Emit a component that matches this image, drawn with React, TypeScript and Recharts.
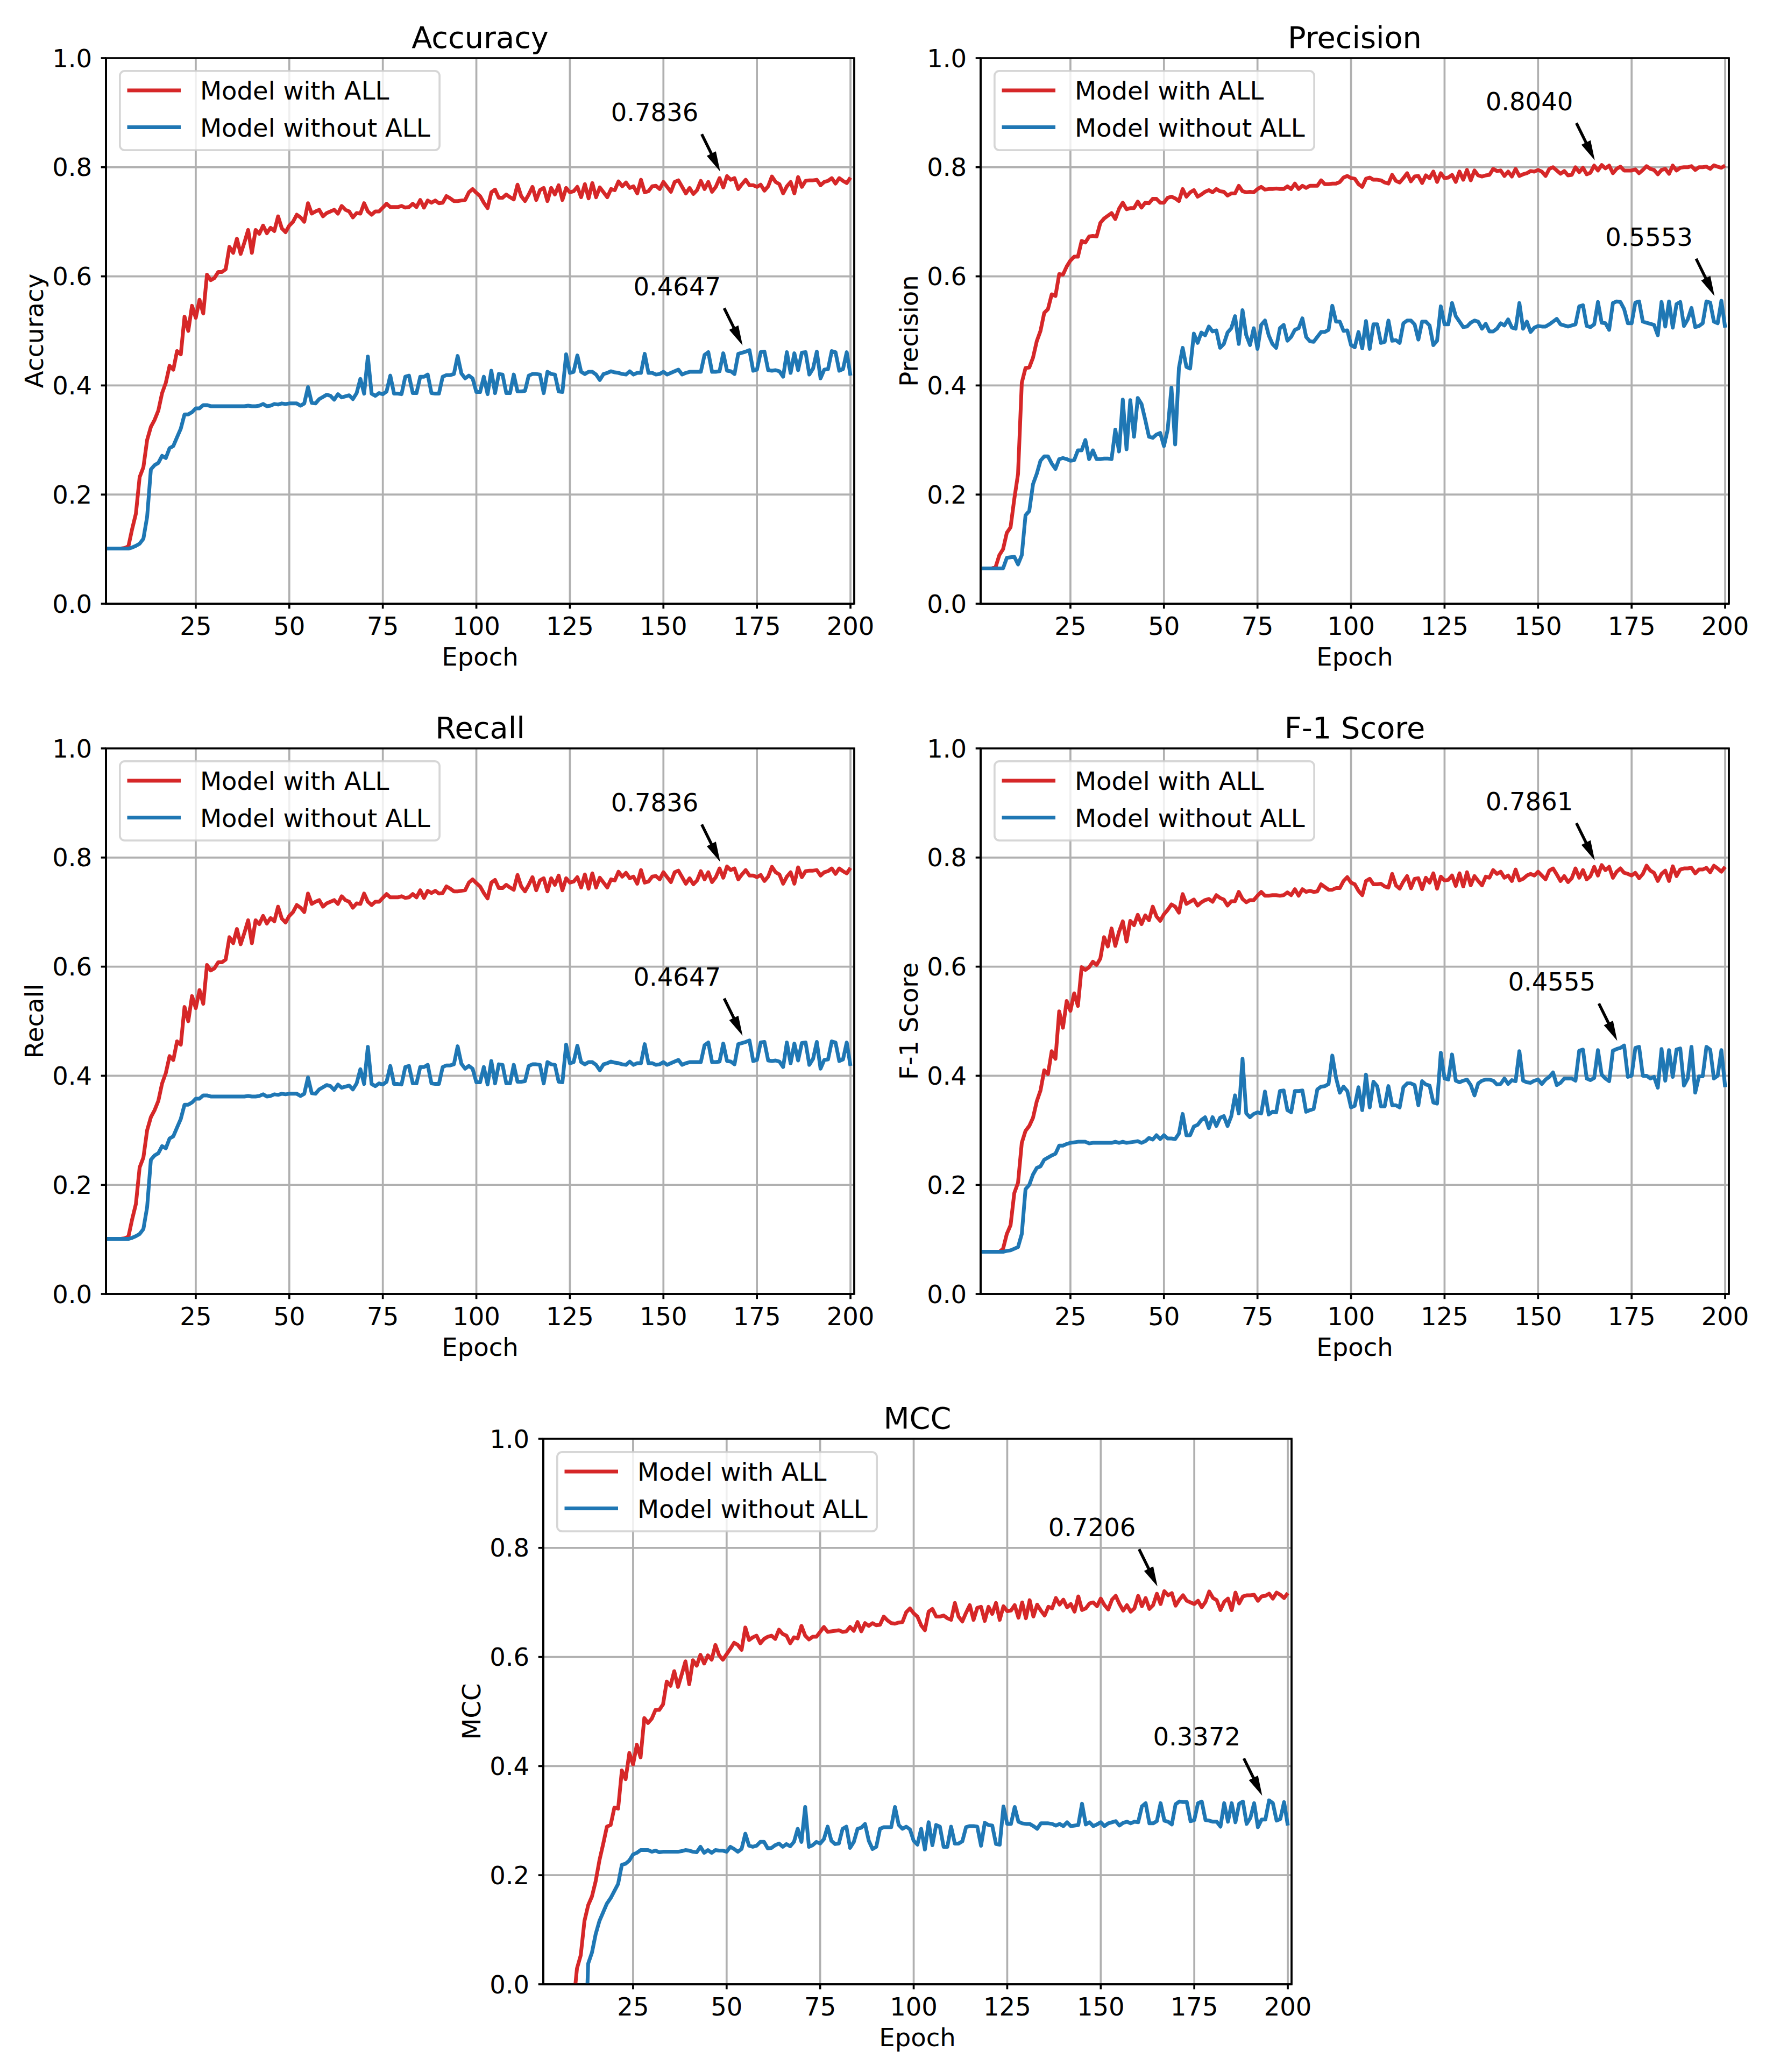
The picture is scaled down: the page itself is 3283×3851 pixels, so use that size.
import React from 'react';
import { LineChart, Line, XAxis, YAxis, CartesianGrid, Legend, ReferenceDot, ReferenceArea } from 'recharts';

const FONT = '"DejaVu Sans", "Liberation Sans", sans-serif';
const RED = '#d62728';
const BLUE = '#1f77b4';

const epochs = Array.from({ length: 200 }, (_, i) => i + 1);
const xTicks = [25, 50, 75, 100, 125, 150, 175, 200];
const yTicks = [0, 0.2, 0.4, 0.6, 0.8, 1.0];
const seriesNames = ['Model with ALL', 'Model without ALL'];

const accuracyWith = [
  0.101, 0.101, 0.101, 0.101, 0.101, 0.102, 0.105, 0.137, 0.165, 0.232,
  0.250, 0.300, 0.324, 0.337, 0.354, 0.386, 0.405, 0.436, 0.429, 0.463,
  0.457, 0.526, 0.500, 0.546, 0.524, 0.557, 0.532, 0.603, 0.593, 0.597,
  0.608, 0.608, 0.613, 0.654, 0.643, 0.669, 0.641, 0.662, 0.685, 0.643,
  0.685, 0.678, 0.693, 0.679, 0.689, 0.683, 0.710, 0.688, 0.681, 0.693,
  0.700, 0.713, 0.708, 0.700, 0.734, 0.715, 0.719, 0.722, 0.710, 0.716,
  0.719, 0.722, 0.715, 0.729, 0.722, 0.719, 0.708, 0.716, 0.715, 0.734,
  0.719, 0.713, 0.719, 0.719, 0.726, 0.733, 0.727, 0.727, 0.727, 0.729,
  0.726, 0.727, 0.733, 0.727, 0.740, 0.726, 0.739, 0.735, 0.739, 0.734,
  0.735, 0.747, 0.743, 0.738, 0.738, 0.739, 0.740, 0.754, 0.760, 0.753,
  0.747, 0.735, 0.725, 0.754, 0.759, 0.744, 0.744, 0.750, 0.745, 0.741,
  0.768, 0.747, 0.738, 0.750, 0.764, 0.740, 0.758, 0.762, 0.738, 0.762,
  0.750, 0.767, 0.740, 0.762, 0.754, 0.756, 0.764, 0.745, 0.769, 0.743,
  0.771, 0.745, 0.763, 0.754, 0.745, 0.760, 0.758, 0.774, 0.765, 0.772,
  0.762, 0.765, 0.752, 0.777, 0.754, 0.756, 0.765, 0.766, 0.760, 0.773,
  0.764, 0.755, 0.773, 0.776, 0.764, 0.752, 0.762, 0.751, 0.758, 0.775,
  0.760, 0.773, 0.755, 0.764, 0.780, 0.763, 0.7836, 0.777, 0.780, 0.760,
  0.769, 0.777, 0.767, 0.767, 0.764, 0.768, 0.757, 0.765, 0.783, 0.773,
  0.769, 0.752, 0.765, 0.773, 0.752, 0.782, 0.764, 0.775, 0.776, 0.776,
  0.777, 0.767, 0.773, 0.775, 0.780, 0.770, 0.780, 0.775, 0.771, 0.781,
];

const accuracyWithout = [
  0.101, 0.101, 0.101, 0.101, 0.101, 0.101, 0.101, 0.103, 0.106, 0.110,
  0.119, 0.159, 0.246, 0.254, 0.258, 0.271, 0.267, 0.285, 0.289, 0.305,
  0.321, 0.347, 0.347, 0.351, 0.358, 0.358, 0.364, 0.364, 0.362, 0.362,
  0.362, 0.362, 0.362, 0.362, 0.362, 0.362, 0.362, 0.362, 0.363, 0.362,
  0.362, 0.363, 0.366, 0.362, 0.363, 0.366, 0.365, 0.367, 0.366, 0.367,
  0.367, 0.367, 0.363, 0.367, 0.397, 0.368, 0.367, 0.375, 0.379, 0.383,
  0.381, 0.374, 0.384, 0.378, 0.380, 0.382, 0.375, 0.386, 0.412, 0.385,
  0.453, 0.385, 0.381, 0.386, 0.384, 0.389, 0.418, 0.385, 0.385, 0.384,
  0.416, 0.418, 0.386, 0.386, 0.416, 0.416, 0.420, 0.386, 0.385, 0.385,
  0.416, 0.419, 0.419, 0.421, 0.454, 0.422, 0.413, 0.418, 0.413, 0.388,
  0.388, 0.416, 0.384, 0.427, 0.386, 0.421, 0.420, 0.386, 0.386, 0.420,
  0.389, 0.389, 0.390, 0.418, 0.421, 0.421, 0.420, 0.386, 0.425, 0.421,
  0.420, 0.389, 0.388, 0.457, 0.423, 0.425, 0.455, 0.425, 0.421, 0.425,
  0.425, 0.420, 0.410, 0.421, 0.423, 0.426, 0.424, 0.423, 0.421, 0.420,
  0.426, 0.420, 0.423, 0.423, 0.458, 0.423, 0.423, 0.420, 0.421, 0.425,
  0.420, 0.423, 0.426, 0.429, 0.420, 0.423, 0.425, 0.425, 0.425, 0.425,
  0.456, 0.461, 0.425, 0.425, 0.426, 0.459, 0.427, 0.426, 0.421, 0.458,
  0.460, 0.462, 0.4647, 0.427, 0.429, 0.461, 0.462, 0.428, 0.427, 0.428,
  0.426, 0.416, 0.461, 0.423, 0.459, 0.428, 0.460, 0.461, 0.420, 0.431,
  0.462, 0.413, 0.429, 0.430, 0.463, 0.461, 0.427, 0.430, 0.461, 0.418,
];

const precisionWith = [
  0.0647, 0.0647, 0.0647, 0.0647, 0.067, 0.089, 0.100, 0.130, 0.140, 0.192,
  0.238, 0.405, 0.432, 0.433, 0.451, 0.481, 0.500, 0.533, 0.540, 0.567,
  0.564, 0.604, 0.603, 0.618, 0.629, 0.636, 0.636, 0.665, 0.662, 0.673,
  0.674, 0.673, 0.698, 0.706, 0.711, 0.716, 0.705, 0.724, 0.735, 0.723,
  0.725, 0.725, 0.737, 0.726, 0.735, 0.734, 0.742, 0.742, 0.735, 0.735,
  0.744, 0.746, 0.743, 0.738, 0.760, 0.746, 0.754, 0.758, 0.746, 0.750,
  0.755, 0.758, 0.754, 0.760, 0.756, 0.755, 0.748, 0.752, 0.752, 0.766,
  0.756, 0.754, 0.755, 0.754, 0.760, 0.764, 0.759, 0.760, 0.760, 0.761,
  0.760, 0.760, 0.765, 0.760, 0.770, 0.760, 0.766, 0.762, 0.766, 0.766,
  0.766, 0.776, 0.769, 0.769, 0.770, 0.770, 0.773, 0.781, 0.784, 0.780,
  0.779, 0.769, 0.764, 0.779, 0.781, 0.777, 0.777, 0.776, 0.772, 0.770,
  0.786, 0.775, 0.772, 0.780, 0.789, 0.774, 0.783, 0.784, 0.771, 0.785,
  0.780, 0.792, 0.773, 0.789, 0.780, 0.781, 0.786, 0.773, 0.792, 0.777,
  0.795, 0.776, 0.794, 0.785, 0.783, 0.785, 0.786, 0.797, 0.793, 0.794,
  0.784, 0.792, 0.783, 0.797, 0.784, 0.787, 0.789, 0.793, 0.792, 0.795,
  0.792, 0.784, 0.797, 0.800, 0.794, 0.788, 0.793, 0.785, 0.786, 0.800,
  0.791, 0.799, 0.787, 0.790, 0.803, 0.794, 0.804, 0.798, 0.803, 0.789,
  0.797, 0.801, 0.794, 0.794, 0.794, 0.796, 0.789, 0.795, 0.802, 0.797,
  0.795, 0.787, 0.795, 0.797, 0.788, 0.803, 0.794, 0.799, 0.800, 0.800,
  0.802, 0.795, 0.800, 0.800, 0.801, 0.797, 0.8035, 0.801, 0.799, 0.803,
];

const precisionWithout = [
  0.0647, 0.0647, 0.0647, 0.0647, 0.0647, 0.0647, 0.0647, 0.084, 0.085, 0.086,
  0.072, 0.089, 0.162, 0.170, 0.219, 0.238, 0.262, 0.270, 0.270, 0.257,
  0.247, 0.265, 0.267, 0.265, 0.262, 0.263, 0.281, 0.281, 0.300, 0.265,
  0.281, 0.265, 0.265, 0.266, 0.266, 0.265, 0.319, 0.279, 0.374, 0.283,
  0.373, 0.306, 0.377, 0.366, 0.337, 0.306, 0.304, 0.310, 0.313, 0.289,
  0.319, 0.396, 0.292, 0.432, 0.469, 0.434, 0.431, 0.495, 0.478, 0.497,
  0.492, 0.508, 0.499, 0.501, 0.469, 0.476, 0.497, 0.505, 0.527, 0.476,
  0.538, 0.492, 0.474, 0.505, 0.467, 0.511, 0.519, 0.492, 0.476, 0.469,
  0.505, 0.511, 0.482, 0.489, 0.502, 0.505, 0.523, 0.489, 0.481, 0.480,
  0.489, 0.498, 0.498, 0.502, 0.546, 0.517, 0.517, 0.500, 0.501, 0.474,
  0.470, 0.498, 0.468, 0.518, 0.467, 0.512, 0.512, 0.478, 0.480, 0.519,
  0.482, 0.483, 0.478, 0.514, 0.519, 0.519, 0.512, 0.484, 0.517, 0.517,
  0.510, 0.474, 0.482, 0.545, 0.512, 0.512, 0.551, 0.527, 0.517, 0.507,
  0.508, 0.515, 0.519, 0.517, 0.504, 0.513, 0.499, 0.499, 0.504, 0.514,
  0.510, 0.521, 0.506, 0.504, 0.551, 0.504, 0.517, 0.498, 0.506, 0.509,
  0.508, 0.508, 0.512, 0.517, 0.522, 0.512, 0.510, 0.508, 0.510, 0.512,
  0.545, 0.547, 0.509, 0.507, 0.512, 0.553, 0.515, 0.514, 0.502, 0.551,
  0.554, 0.553, 0.540, 0.514, 0.514, 0.552, 0.554, 0.517, 0.515, 0.513,
  0.511, 0.492, 0.553, 0.508, 0.554, 0.506, 0.549, 0.553, 0.509, 0.521,
  0.542, 0.507, 0.509, 0.514, 0.554, 0.552, 0.517, 0.514, 0.5553, 0.506,
];

// Weighted recall equals accuracy in the reference: the two panels are identical.
const recallWith = accuracyWith;
const recallWithout = accuracyWithout;

const f1With = [
  0.0773, 0.0773, 0.0773, 0.0773, 0.0773, 0.0773, 0.083, 0.110, 0.126, 0.185,
  0.204, 0.277, 0.299, 0.308, 0.323, 0.353, 0.373, 0.410, 0.403, 0.445,
  0.431, 0.518, 0.488, 0.537, 0.519, 0.551, 0.528, 0.599, 0.594, 0.599,
  0.609, 0.603, 0.615, 0.654, 0.637, 0.670, 0.638, 0.664, 0.683, 0.646,
  0.684, 0.676, 0.695, 0.678, 0.694, 0.685, 0.710, 0.692, 0.684, 0.696,
  0.704, 0.714, 0.710, 0.699, 0.733, 0.715, 0.719, 0.723, 0.712, 0.718,
  0.722, 0.724, 0.719, 0.731, 0.726, 0.723, 0.712, 0.720, 0.720, 0.737,
  0.724, 0.718, 0.722, 0.722, 0.730, 0.737, 0.730, 0.730, 0.731, 0.731,
  0.730, 0.731, 0.736, 0.731, 0.742, 0.730, 0.742, 0.737, 0.739, 0.737,
  0.738, 0.751, 0.746, 0.741, 0.741, 0.744, 0.744, 0.757, 0.764, 0.754,
  0.751, 0.739, 0.731, 0.757, 0.761, 0.751, 0.751, 0.752, 0.747, 0.745,
  0.770, 0.749, 0.743, 0.756, 0.766, 0.744, 0.761, 0.762, 0.742, 0.763,
  0.754, 0.771, 0.743, 0.765, 0.758, 0.759, 0.767, 0.748, 0.771, 0.747,
  0.773, 0.749, 0.766, 0.757, 0.749, 0.765, 0.763, 0.777, 0.770, 0.774,
  0.763, 0.767, 0.757, 0.778, 0.758, 0.761, 0.767, 0.770, 0.767, 0.774,
  0.767, 0.760, 0.776, 0.780, 0.769, 0.757, 0.766, 0.755, 0.762, 0.780,
  0.763, 0.777, 0.760, 0.766, 0.783, 0.767, 0.7861, 0.777, 0.783, 0.763,
  0.774, 0.780, 0.772, 0.770, 0.767, 0.772, 0.762, 0.770, 0.785, 0.776,
  0.772, 0.757, 0.770, 0.776, 0.757, 0.784, 0.766, 0.778, 0.780, 0.780,
  0.781, 0.771, 0.778, 0.778, 0.781, 0.773, 0.785, 0.780, 0.774, 0.783,
];

const f1Without = [
  0.0773, 0.0773, 0.0773, 0.0773, 0.0773, 0.0773, 0.0773, 0.079, 0.080, 0.083,
  0.086, 0.110, 0.192, 0.200, 0.219, 0.231, 0.234, 0.246, 0.250, 0.254,
  0.257, 0.272, 0.272, 0.275, 0.277, 0.278, 0.279, 0.279, 0.279, 0.276,
  0.277, 0.277, 0.277, 0.277, 0.277, 0.277, 0.279, 0.277, 0.279, 0.277,
  0.278, 0.279, 0.280, 0.277, 0.280, 0.286, 0.283, 0.291, 0.284, 0.291,
  0.285, 0.285, 0.284, 0.294, 0.330, 0.291, 0.291, 0.307, 0.310, 0.319,
  0.324, 0.304, 0.324, 0.308, 0.323, 0.326, 0.308, 0.326, 0.364, 0.331,
  0.431, 0.331, 0.324, 0.330, 0.333, 0.331, 0.371, 0.329, 0.334, 0.333,
  0.372, 0.373, 0.337, 0.333, 0.372, 0.372, 0.373, 0.334, 0.337, 0.339,
  0.375, 0.380, 0.381, 0.385, 0.437, 0.396, 0.369, 0.380, 0.372, 0.342,
  0.345, 0.379, 0.337, 0.402, 0.342, 0.389, 0.381, 0.344, 0.344, 0.381,
  0.346, 0.346, 0.342, 0.379, 0.386, 0.386, 0.383, 0.346, 0.390, 0.384,
  0.382, 0.351, 0.349, 0.442, 0.395, 0.393, 0.439, 0.391, 0.388, 0.391,
  0.393, 0.383, 0.364, 0.386, 0.391, 0.393, 0.393, 0.391, 0.384, 0.385,
  0.395, 0.385, 0.392, 0.390, 0.445, 0.391, 0.388, 0.387, 0.391, 0.393,
  0.385, 0.393, 0.398, 0.406, 0.383, 0.387, 0.395, 0.395, 0.395, 0.391,
  0.446, 0.448, 0.395, 0.392, 0.396, 0.447, 0.402, 0.395, 0.390, 0.446,
  0.449, 0.451, 0.4555, 0.398, 0.400, 0.451, 0.453, 0.400, 0.400, 0.395,
  0.398, 0.378, 0.449, 0.391, 0.447, 0.398, 0.448, 0.450, 0.382, 0.395,
  0.453, 0.369, 0.399, 0.399, 0.453, 0.448, 0.395, 0.400, 0.447, 0.379,
];

const mccWith = [
  -0.12, -0.12, -0.12, -0.12, -0.12, -0.12, -0.11, -0.08, -0.04, 0.029,
  0.053, 0.116, 0.145, 0.161, 0.189, 0.227, 0.257, 0.289, 0.292, 0.324,
  0.322, 0.392, 0.376, 0.424, 0.403, 0.439, 0.416, 0.488, 0.479, 0.487,
  0.503, 0.503, 0.513, 0.555, 0.547, 0.574, 0.545, 0.568, 0.592, 0.550,
  0.594, 0.584, 0.604, 0.588, 0.603, 0.595, 0.622, 0.603, 0.595, 0.605,
  0.615, 0.626, 0.622, 0.613, 0.654, 0.631, 0.636, 0.639, 0.625, 0.633,
  0.637, 0.639, 0.633, 0.650, 0.642, 0.639, 0.625, 0.636, 0.634, 0.657,
  0.639, 0.632, 0.637, 0.637, 0.646, 0.655, 0.646, 0.647, 0.648, 0.649,
  0.646, 0.647, 0.655, 0.648, 0.664, 0.647, 0.662, 0.657, 0.662, 0.658,
  0.659, 0.674, 0.667, 0.662, 0.661, 0.663, 0.664, 0.682, 0.689, 0.680,
  0.674, 0.658, 0.649, 0.683, 0.688, 0.674, 0.674, 0.676, 0.671, 0.668,
  0.699, 0.674, 0.665, 0.681, 0.695, 0.668, 0.690, 0.692, 0.666, 0.692,
  0.679, 0.699, 0.668, 0.693, 0.684, 0.685, 0.695, 0.672, 0.700, 0.671,
  0.704, 0.674, 0.696, 0.685, 0.676, 0.692, 0.689, 0.708, 0.696, 0.705,
  0.691, 0.697, 0.683, 0.711, 0.686, 0.689, 0.698, 0.700, 0.693, 0.707,
  0.695, 0.687, 0.705, 0.712, 0.697, 0.685, 0.695, 0.683, 0.689, 0.712,
  0.693, 0.708, 0.688, 0.695, 0.716, 0.697, 0.7206, 0.713, 0.717, 0.694,
  0.705, 0.713, 0.703, 0.700, 0.697, 0.703, 0.691, 0.701, 0.720, 0.708,
  0.704, 0.686, 0.701, 0.707, 0.686, 0.718, 0.698, 0.711, 0.713, 0.713,
  0.714, 0.703, 0.711, 0.712, 0.716, 0.707, 0.718, 0.714, 0.708, 0.717,
];

const mccWithout = [
  -0.2, -0.2, -0.2, -0.2, -0.2, -0.2, -0.2, -0.2, -0.2, -0.2,
  -0.19, -0.15, 0.038, 0.058, 0.092, 0.116, 0.132, 0.148, 0.158, 0.171,
  0.184, 0.219, 0.221, 0.227, 0.238, 0.241, 0.246, 0.246, 0.246, 0.243,
  0.245, 0.242, 0.243, 0.243, 0.243, 0.243, 0.243, 0.244, 0.246, 0.245,
  0.243, 0.242, 0.252, 0.241, 0.246, 0.241, 0.246, 0.245, 0.245, 0.243,
  0.252, 0.248, 0.243, 0.248, 0.276, 0.254, 0.252, 0.254, 0.261, 0.261,
  0.249, 0.250, 0.255, 0.258, 0.252, 0.257, 0.253, 0.261, 0.285, 0.261,
  0.325, 0.252, 0.255, 0.261, 0.258, 0.266, 0.289, 0.263, 0.257, 0.258,
  0.285, 0.289, 0.250, 0.261, 0.285, 0.287, 0.294, 0.263, 0.248, 0.252,
  0.285, 0.288, 0.288, 0.288, 0.325, 0.292, 0.285, 0.289, 0.284, 0.263,
  0.256, 0.285, 0.247, 0.297, 0.255, 0.292, 0.289, 0.252, 0.252, 0.289,
  0.258, 0.258, 0.262, 0.288, 0.290, 0.290, 0.289, 0.254, 0.296, 0.292,
  0.291, 0.257, 0.256, 0.326, 0.294, 0.294, 0.325, 0.298, 0.295, 0.294,
  0.294, 0.290, 0.285, 0.295, 0.295, 0.295, 0.294, 0.291, 0.294, 0.290,
  0.297, 0.290, 0.291, 0.292, 0.331, 0.293, 0.297, 0.290, 0.293, 0.297,
  0.290, 0.295, 0.297, 0.299, 0.291, 0.296, 0.298, 0.295, 0.298, 0.297,
  0.326, 0.332, 0.295, 0.295, 0.299, 0.332, 0.300, 0.298, 0.293, 0.330,
  0.335, 0.334, 0.334, 0.299, 0.301, 0.332, 0.335, 0.301, 0.300, 0.298,
  0.298, 0.289, 0.332, 0.298, 0.332, 0.297, 0.331, 0.335, 0.294, 0.305,
  0.332, 0.288, 0.302, 0.302, 0.3372, 0.332, 0.300, 0.303, 0.334, 0.291,
];

// ---- layout (pixels) ----
const PLOT_W = 1391;
const PLOT_H = 1014;
const PAD_L = 200;
const PAD_T = 100;
const PAD_R = 40;
const PAD_B = 150;
const TICK_FONT = 46.5;
const TITLE_FONT = 55.8;
const SPINE = 3.7;
const LINE_W = 7;

function peakOf(values: number[]) {
  let best = 0;
  values.forEach((v, i) => {
    if (v > values[best]) best = i;
  });
  return { epoch: epochs[best], value: values[best] };
}

function Callout(props: any) {
  const { cx, cy, text } = props;
  if (cx == null || cy == null || isNaN(cx) || isNaN(cy)) return null;
  const sx = cx - 47;
  const sy = cy - 78;
  const tx = cx - 12.8;
  const ty = cy - 8.7;
  const dx = tx - sx;
  const dy = ty - sy;
  const len = Math.hypot(dx, dy);
  const ux = dx / len;
  const uy = dy / len;
  const nx = -uy;
  const ny = ux;
  const hl = 37;
  const hw = 9.5;
  const sw = 2.7;
  const bx = tx - ux * hl;
  const by = ty - uy * hl;
  const pts = [
    [sx + nx * sw, sy + ny * sw],
    [bx + nx * sw, by + ny * sw],
    [bx + nx * hw, by + ny * hw],
    [tx, ty],
    [bx - nx * hw, by - ny * hw],
    [bx - nx * sw, by - ny * sw],
    [sx - nx * sw, sy - ny * sw],
  ]
    .map((p) => `${p[0]},${p[1]}`)
    .join(' ');
  return (
    <g>
      <polygon points={pts} fill="#000" stroke="none" />
      <text
        x={cx - 134.5}
        y={cy - 102}
        textAnchor="middle"
        fontSize={TICK_FONT}
        fontFamily={FONT}
        fill="#000"
      >
        {text}
      </text>
    </g>
  );
}

function LegendBox(props: any) {
  const payload = props.payload || [];
  return (
    <svg width={598} height={151} style={{ display: 'block', overflow: 'visible' }}>
      <rect
        x={1.85}
        y={1.85}
        width={594.3}
        height={147.3}
        rx={9}
        ry={9}
        fill="#ffffff"
        fillOpacity={0.8}
        stroke="#cccccc"
        strokeOpacity={0.8}
        strokeWidth={SPINE}
      />
      {payload.map((entry: any, i: number) => (
        <g key={`lg-${i}`}>
          <line
            x1={15.5}
            x2={115}
            y1={38 + i * 68.5}
            y2={38 + i * 68.5}
            stroke={entry.color}
            strokeWidth={LINE_W}
          />
          <text x={151} y={55 + i * 68.5} fontSize={TICK_FONT} fontFamily={FONT} fill="#000">
            {entry.value}
          </text>
        </g>
      ))}
    </svg>
  );
}

function Panel(props: {
  left: number;
  top: number;
  title: string;
  yLabel: string;
  withVals: number[];
  withoutVals: number[];
}) {
  const { left, top, title, yLabel, withVals, withoutVals } = props;
  const rows = epochs.map((epoch, i) => ({
    epoch,
    withAll: withVals[i],
    withoutAll: withoutVals[i],
  }));
  const pw = peakOf(withVals);
  const pwo = peakOf(withoutVals);
  const W = PAD_L + PLOT_W + PAD_R;
  const H = PAD_T + PLOT_H + PAD_B;
  const tickStyle = { fontSize: TICK_FONT, fill: '#000', fontFamily: FONT };
  return (
    <div style={{ position: 'absolute', left: left - PAD_L, top: top - PAD_T, width: W, height: H }}>
      <LineChart width={W} height={H} data={rows} margin={{ top: PAD_T, right: PAD_R, bottom: 0, left: 0 }}>
        <CartesianGrid stroke="#b0b0b0" strokeWidth={SPINE} />
        <XAxis
          dataKey="epoch"
          type="number"
          domain={[1, 201]}
          ticks={xTicks}
          interval={0}
          allowDataOverflow
          height={PAD_B}
          tickSize={9.3}
          tickMargin={15.2}
          tick={tickStyle}
          axisLine={{ stroke: '#000', strokeWidth: SPINE }}
          tickLine={{ stroke: '#000', strokeWidth: SPINE }}
        />
        <YAxis
          type="number"
          domain={[0, 1]}
          ticks={yTicks}
          interval={0}
          allowDataOverflow
          width={PAD_L}
          tickSize={9.3}
          tickMargin={16.5}
          tick={tickStyle}
          tickFormatter={(v: number) => v.toFixed(1)}
          axisLine={{ stroke: '#000', strokeWidth: SPINE }}
          tickLine={{ stroke: '#000', strokeWidth: SPINE }}
        />
        <Line
          type="linear"
          dataKey="withAll"
          name={seriesNames[0]}
          stroke={RED}
          strokeWidth={LINE_W}
          strokeLinejoin="round"
          dot={false}
          activeDot={false}
          isAnimationActive={false}
        />
        <Line
          type="linear"
          dataKey="withoutAll"
          name={seriesNames[1]}
          stroke={BLUE}
          strokeWidth={LINE_W}
          strokeLinejoin="round"
          dot={false}
          activeDot={false}
          isAnimationActive={false}
        />
        <ReferenceArea
          x1={1}
          x2={201}
          y1={0}
          y2={1}
          fill="none"
          fillOpacity={0}
          stroke="#000"
          strokeWidth={SPINE}
          ifOverflow="visible"
        />
        <ReferenceDot
          x={pw.epoch}
          y={pw.value}
          r={0}
          ifOverflow="visible"
          shape={(p: any) => <Callout cx={p.cx} cy={p.cy} text={pw.value.toFixed(4)} />}
        />
        <ReferenceDot
          x={pwo.epoch}
          y={pwo.value}
          r={0}
          ifOverflow="visible"
          shape={(p: any) => <Callout cx={p.cx} cy={p.cy} text={pwo.value.toFixed(4)} />}
        />
        <Legend
          layout="vertical"
          align="center"
          verticalAlign="middle"
          width={598}
          height={151}
          wrapperStyle={{ left: PAD_L + 24, top: PAD_T + 22.5, width: 598, height: 151 }}
          content={(lp: any) => <LegendBox payload={lp.payload} />}
        />
      </LineChart>
      <svg
        width={W}
        height={H}
        style={{ position: 'absolute', left: 0, top: 0, pointerEvents: 'none', overflow: 'visible' }}
      >
        <text
          x={PAD_L + PLOT_W / 2}
          y={PAD_T - 19.5}
          textAnchor="middle"
          fontSize={TITLE_FONT}
          fontFamily={FONT}
          fill="#000"
        >
          {title}
        </text>
        <text
          x={PAD_L + PLOT_W / 2}
          y={PAD_T + PLOT_H + 115}
          textAnchor="middle"
          fontSize={TICK_FONT}
          fontFamily={FONT}
          fill="#000"
        >
          Epoch
        </text>
        <text
          x={PAD_L - 117}
          y={PAD_T + PLOT_H / 2}
          textAnchor="middle"
          fontSize={TICK_FONT}
          fontFamily={FONT}
          fill="#000"
          transform={`rotate(-90, ${PAD_L - 117}, ${PAD_T + PLOT_H / 2})`}
        >
          {yLabel}
        </text>
      </svg>
    </div>
  );
}

export default function App() {
  return (
    <div
      style={{
        position: 'absolute',
        left: 0,
        top: 0,
        width: 3283,
        height: 3851,
        background: '#ffffff',
        overflow: 'hidden',
      }}
    >
      <Panel left={197} top={107.5} title="Accuracy" yLabel="Accuracy" withVals={accuracyWith} withoutVals={accuracyWithout} />
      <Panel left={1823} top={107.5} title="Precision" yLabel="Precision" withVals={precisionWith} withoutVals={precisionWithout} />
      <Panel left={197} top={1390.5} title="Recall" yLabel="Recall" withVals={recallWith} withoutVals={recallWithout} />
      <Panel left={1823} top={1390.5} title="F-1 Score" yLabel="F-1 Score" withVals={f1With} withoutVals={f1Without} />
      <Panel left={1010} top={2674} title="MCC" yLabel="MCC" withVals={mccWith} withoutVals={mccWithout} />
    </div>
  );
}
